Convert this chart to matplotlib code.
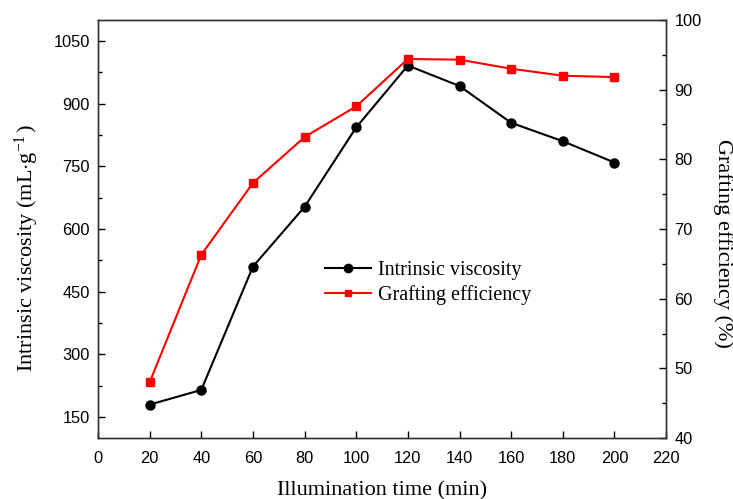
import matplotlib.pyplot as plt
import numpy as np
from matplotlib.ticker import MultipleLocator
from matplotlib.lines import Line2D

# illumination time (min)
time = [20, 40, 60, 80, 100, 120, 140, 160, 180, 200]
# intrinsic viscosity (mL/g), left axis
viscosity = [180, 215, 510, 653, 843, 991, 942, 854, 810, 759]
# grafting efficiency (%), right axis
grafting = [48.0, 66.3, 76.6, 83.2, 87.6, 94.4, 94.3, 93.0, 92.0, 91.8]

sans = 'Liberation Sans'
serif = 'Liberation Serif'
plt.rcParams['mathtext.fontset'] = 'custom'
plt.rcParams['mathtext.rm'] = serif
plt.rcParams['mathtext.it'] = serif + ':italic'

fig = plt.figure(figsize=(7.33, 4.99), dpi=100)
ax = fig.add_axes([0.1337, 0.1222, 0.775, 0.8378])
ax2 = ax.twinx()

ax.plot(time, viscosity, color='black', marker='o', markersize=6.5, linewidth=1.5)
ax2.plot(time, grafting, color='red', marker='s', markersize=6, linewidth=1.5)

ax.set_xlim(0, 220)
ax.set_ylim(100, 1100)
ax2.set_ylim(40, 100)
ax.set_xticks(np.arange(0, 240, 20))
ax.set_yticks(np.arange(150, 1100, 150))
ax.yaxis.set_minor_locator(MultipleLocator(75))
ax2.yaxis.set_major_locator(MultipleLocator(10))
ax2.yaxis.set_minor_locator(MultipleLocator(5))

for a in (ax, ax2):
    a.tick_params(which='both', direction='in', labelsize=11.8, width=1, pad=6)
    a.tick_params(which='major', length=5)
    a.tick_params(which='minor', length=3)
    for lbl in a.get_xticklabels() + a.get_yticklabels():
        lbl.set_fontfamily(sans)
    for s in a.spines.values():
        s.set_linewidth(1)
        s.set_color('#333333')
ax.tick_params(axis='x', pad=9)

ax.set_xlabel('Illumination time (min)', fontsize=16, family=serif, labelpad=11)
ax.set_ylabel(r'Intrinsic viscosity (mL$\cdot$g$^{\mathrm{-1}}$$\,$)', fontsize=16,
              family=serif)
ax.yaxis.set_label_coords(-0.1, 0.455)
ax2.set_ylabel('Grafting efficiency (%)', fontsize=16, family=serif,
               rotation=270, va='bottom')
ax2.yaxis.set_label_coords(1.083, 0.465)

handles = [
    Line2D([], [], color='black', marker='o', markersize=6, linewidth=1.5),
    Line2D([], [], color='red', marker='s', markersize=5, linewidth=1.5),
]
fig.legend(handles, ['Intrinsic viscosity', 'Grafting efficiency'],
           loc='upper left', bbox_to_anchor=(0.419, 0.514), frameon=False,
           prop={'family': serif, 'size': 14.5}, handlelength=2.25,
           handletextpad=0.35, labelspacing=0.25)

fig.savefig('out.png', dpi=100)
